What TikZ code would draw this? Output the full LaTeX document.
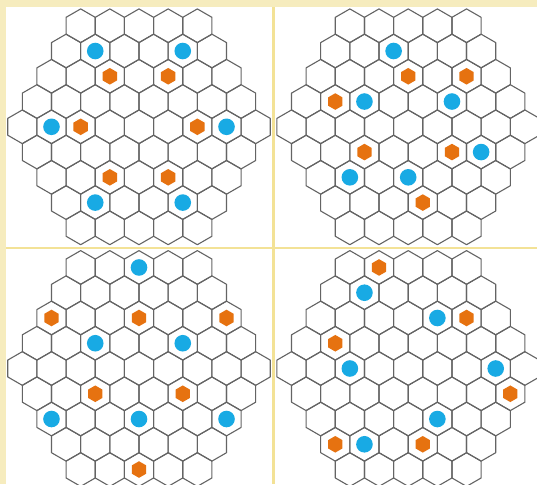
\documentclass[tikz,border=0pt]{standalone}
\usepackage{tikz}
\definecolor{paper}{RGB}{246,236,190}
\definecolor{sepline}{RGB}{243,226,150}
\definecolor{gridgray}{RGB}{100,100,100}
\definecolor{dotblue}{RGB}{24,170,228}
\definecolor{dotorange}{RGB}{230,114,16}
\tikzset{
  hexline/.style={draw=gridgray, line width=1.1pt, line join=round},
  bluemark/.style={fill=dotblue},
  orangemark/.style={fill=dotorange},
  hexcell/.pic={\path[hexline] (0,-16.84) -- (14.585,-8.42) -- (14.585,8.42) -- (0,16.84) -- (-14.585,8.42) -- (-14.585,-8.42) -- cycle;},
}
\newcommand\hexgrid{%
  \foreach \r in {0,...,8}{%
    \pgfmathtruncatemacro\nn{9-abs(\r-4)}%
    \foreach \i in {1,...,\nn}{%
      \pic at ({(\i-1-(\nn-1)/2)*29.17},{(\r-4)*25.26}) {hexcell};
    }%
  }%
}
\newcommand\bluedot[2]{%
  \pgfmathsetmacro\nb{9-abs(#1-4)}%
  \fill[bluemark] ({(#2-(\nb-1)/2)*29.17},{(#1-4)*25.26}) circle (8.3pt);%
}
\newcommand\orangehex[2]{%
  \pgfmathsetmacro\no{9-abs(#1-4)}%
  \fill[orangemark] ({(#2-(\no-1)/2)*29.17},{(#1-4)*25.26})
    ++(0,-8.3) -- ++(7.19,4.15) -- ++(0,8.3) -- ++(-7.19,4.15) -- ++(-7.19,-4.15) -- ++(0,-8.3) -- cycle;%
}
\begin{document}
\begin{tikzpicture}[x=1pt,y=-1pt]
\useasboundingbox (0,0) rectangle (537,484);
\fill[paper] (0,0) rectangle (537,484);
\fill[sepline] (272.3,7) rectangle (274.8,484);
\fill[sepline] (6,246.6) rectangle (537,248.7);
% panel 1
\begin{scope}
\clip (6,7) rectangle (272.3,246.6);
\fill[white] (6,7) rectangle (272.3,246.6);
\begin{scope}[shift={(139,126.8)}]
\hexgrid
\bluedot{1}{1}\bluedot{1}{4}
\orangehex{2}{2}\orangehex{2}{4}
\bluedot{4}{1}\orangehex{4}{2}\orangehex{4}{6}\bluedot{4}{7}
\orangehex{6}{2}\orangehex{6}{4}
\bluedot{7}{1}\bluedot{7}{4}
\end{scope}
\end{scope}
% panel 2
\begin{scope}
\clip (274.8,7) rectangle (537,246.6);
\fill[white] (274.8,7) rectangle (537,246.6);
\begin{scope}[shift={(408.2,126.8)}]
\hexgrid
\bluedot{1}{2}
\orangehex{2}{3}\orangehex{2}{5}
\orangehex{3}{1}\bluedot{3}{2}\bluedot{3}{5}
\orangehex{5}{2}\orangehex{5}{5}\bluedot{5}{6}
\bluedot{6}{1}\bluedot{6}{3}
\orangehex{7}{3}
\end{scope}
\end{scope}
% panel 3
\begin{scope}
\clip (6,248.7) rectangle (272.3,484);
\fill[white] (6,248.7) rectangle (272.3,484);
\begin{scope}[shift={(139,368.5)}]
\hexgrid
\bluedot{0}{2}
\orangehex{2}{0}\orangehex{2}{3}\orangehex{2}{6}
\bluedot{3}{2}\bluedot{3}{5}
\orangehex{5}{2}\orangehex{5}{5}
\bluedot{6}{0}\bluedot{6}{3}\bluedot{6}{6}
\orangehex{8}{2}
\end{scope}
\end{scope}
% panel 4
\begin{scope}
\clip (274.8,248.7) rectangle (537,484);
\fill[white] (274.8,248.7) rectangle (537,484);
\begin{scope}[shift={(408.2,368.5)}]
\hexgrid
\orangehex{0}{1}
\bluedot{1}{1}
\bluedot{2}{4}\orangehex{2}{5}
\orangehex{3}{1}
\bluedot{4}{2}\bluedot{4}{7}
\orangehex{5}{7}
\bluedot{6}{4}
\orangehex{7}{0}\bluedot{7}{1}\orangehex{7}{3}
\end{scope}
\end{scope}
\end{tikzpicture}
\end{document}
